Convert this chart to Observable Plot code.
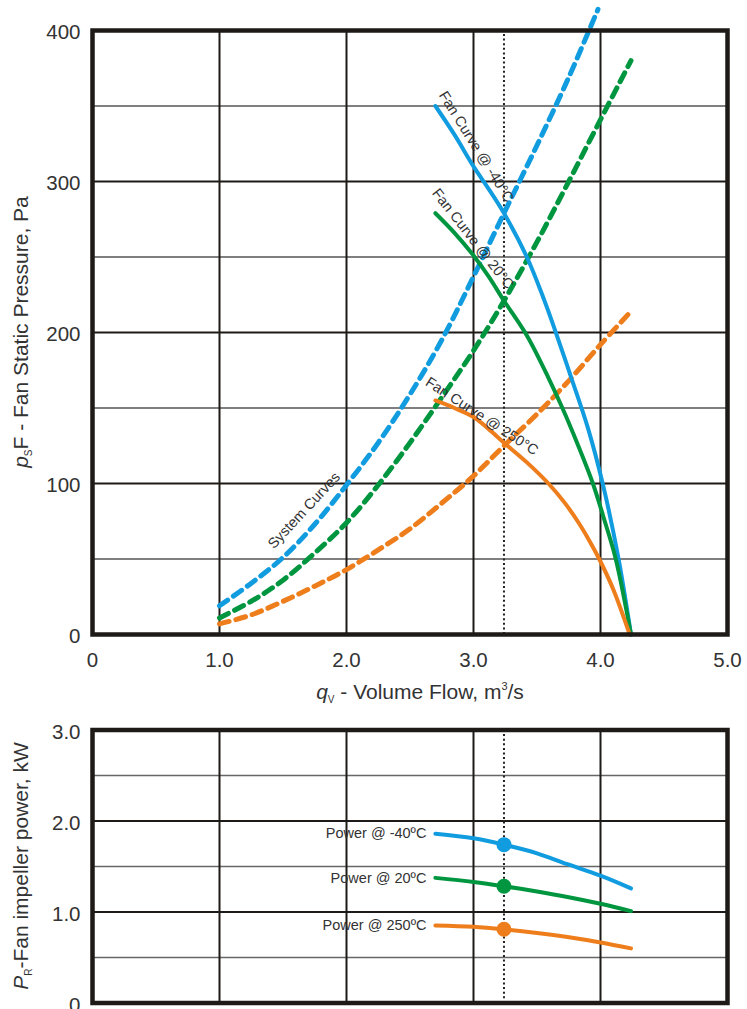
<!DOCTYPE html>
<html><head><meta charset="utf-8">
<script src="https://cdn.jsdelivr.net/npm/d3@7"></script>
<script src="https://cdn.jsdelivr.net/npm/@observablehq/plot@0.6"></script>
<style>
html,body{margin:0;padding:0;background:#fff;overflow:hidden;}
#chart{width:747px;height:1009px;position:relative;overflow:hidden;}
#chart svg{display:block;}
</style></head><body><div id="chart"></div>
<script>
// ---------- data ----------
const qTicks = [0, 1, 2, 3, 4, 5];
const qTickLabels = ["0", "1.0", "2.0", "3.0", "4.0", "5.0"];
const qGrid = [1, 2, 3, 4];
const pTicks = [0, 100, 200, 300, 400];
const pTickLabels = ["0", "100", "200", "300", "400"];
const pMajor = [100, 200, 300];
const pMinor = [50, 150, 250, 350];
const powTicks = [0, 1, 2, 3];
const powTickLabels = ["0", "1.0", "2.0", "3.0"];
const powMajor = [1, 2];
const powMinor = [0.5, 1.5, 2.5];
const opFlow = 3.24;

const sysFlowBlue = [1.0, 1.25, 1.5, 1.75, 2.0, 2.25, 2.5, 2.75, 3.0, 3.24, 3.5, 3.75, 3.98];
const sysPressBlue = [19, 34, 51, 73, 99, 127, 159, 195, 237, 279, 324, 369, 414];
const sysFlow = [1.0, 1.25, 1.5, 1.75, 2.0, 2.25, 2.5, 2.75, 3.0, 3.24, 3.5, 3.75, 4.0, 4.24];
const sysPressGreen = [11, 22, 36, 54, 74, 99, 127, 157, 188, 221, 260, 300, 341, 380];
const sysPressOrange = [7, 13, 22, 32, 43, 56, 70, 87, 105, 125, 146, 168, 192, 214];

const fanFlowBlue = [2.7, 2.85, 3.0, 3.12, 3.24, 3.42, 3.55, 3.64, 3.77, 3.9, 4.02, 4.14, 4.24];
const fanPressBlue = [350, 331, 310, 295, 279, 250, 223, 202, 170, 137, 99, 51, 0];
const fanFlowGreen = [2.7, 2.85, 3.0, 3.12, 3.24, 3.42, 3.59, 3.7, 3.82, 3.94, 4.03, 4.12, 4.24];
const fanPressGreen = [279, 266, 251, 237, 221, 198, 170, 150, 126, 100, 76, 50, 0];
const fanFlowOrange = [2.7, 2.85, 3.0, 3.12, 3.24, 3.42, 3.59, 3.72, 3.82, 3.92, 3.99, 4.1, 4.23];
const fanPressOrange = [155, 150, 144, 136, 127, 114, 100, 87, 75, 61, 50, 30, 0];

const powerFlow = [2.7, 3.0, 3.24, 3.5, 3.74, 4.0, 4.24];
const powerBlue = [1.86, 1.81, 1.74, 1.645, 1.525, 1.40, 1.26];
const powerGreen = [1.375, 1.33, 1.283, 1.225, 1.165, 1.09, 1.01];
const powerOrange = [0.853, 0.838, 0.81, 0.77, 0.725, 0.665, 0.60];

const fanLabels = ["Fan Curve @ -40°C", "Fan Curve @ 20°C", "Fan Curve @ 250°C"];
const systemLabel = "System Curves";
const powerLabels = ["Power @ -40ºC", "Power @ 20ºC", "Power @ 250ºC"];

const BLUE = "#119ce0", GREEN = "#00963f", ORANGE = "#ee7d1b";
const INK = "#1e1a17", TEXT = "#333";
const FONT = "'Liberation Sans', Arial, Helvetica, sans-serif";

const pts = (xs, ys) => xs.map((x, i) => ({x, y: ys[i]}));
const dashed = {x: "x", y: "y", strokeWidth: 5, strokeDasharray: "10,7", curve: "catmull-rom"};
const solid = {x: "x", y: "y", strokeWidth: 4, curve: "catmull-rom"};
const lbl = {fontSize: 14.5, fill: TEXT, textAnchor: "start", lineAnchor: "bottom"};

// ---------- top chart ----------
const topPlot = Plot.plot({
  width: 747, height: 712,
  marginLeft: 92, marginRight: 20, marginTop: 30, marginBottom: 78,
  x: {domain: [0, 5]},
  y: {domain: [0, 400]},
  style: {fontFamily: FONT, fontSize: "20.5px", color: TEXT, background: "white"},
  marks: [
    Plot.ruleY(pMinor, {stroke: "#555", strokeWidth: 1.3}),
    Plot.ruleY(pMajor, {stroke: INK, strokeWidth: 2}),
    Plot.ruleX(qGrid, {stroke: INK, strokeWidth: 2}),
    Plot.ruleX([opFlow], {y1: 0, y2: 398, stroke: "#222", strokeWidth: 2, strokeDasharray: "2,2.6"}),
    Plot.line(pts(sysFlowBlue, sysPressBlue), {...dashed, stroke: BLUE}),
    Plot.line(pts(sysFlow, sysPressGreen), {...dashed, stroke: GREEN}),
    Plot.line(pts(sysFlow, sysPressOrange), {...dashed, stroke: ORANGE}),
    Plot.line(pts(fanFlowBlue, fanPressBlue), {...solid, stroke: BLUE}),
    Plot.line(pts(fanFlowGreen, fanPressGreen), {...solid, stroke: GREEN}),
    Plot.line(pts(fanFlowOrange, fanPressOrange), {...solid, stroke: ORANGE}),
    Plot.frame({stroke: INK, strokeWidth: 4.5}),
    Plot.axisX(qTicks, {tickSize: 0, tickPadding: 18, label: null, fontSize: 20.5, fill: TEXT,
      tickFormat: d => qTickLabels[qTicks.indexOf(d)]}),
    Plot.axisY(pTicks, {tickSize: 0, tickPadding: 12, label: null, fontSize: 20.5, fill: TEXT, dy: 2,
      tickFormat: d => pTickLabels[pTicks.indexOf(d)]}),
    Plot.text([fanLabels[0]], {...lbl, x: fanFlowBlue[0], y: fanPressBlue[0], text: d => d, rotate: 58, dx: 3, dy: -11}),
    Plot.text([fanLabels[1]], {...lbl, x: fanFlowGreen[0], y: fanPressGreen[0], text: d => d, rotate: 52, dx: -4, dy: -20}),
    Plot.text([fanLabels[2]], {...lbl, x: fanFlowOrange[0], y: fanPressOrange[0], text: d => d, rotate: 33, dx: -11, dy: -16}),
    Plot.text([systemLabel], {...lbl, x: sysFlowBlue[2], y: sysPressBlue[2], text: d => d, rotate: -47, dx: -9, dy: -8})
  ]
});

// ---------- bottom chart ----------
const powerDots = [
  {x: powerFlow[2], y: powerBlue[2], c: BLUE},
  {x: powerFlow[2], y: powerGreen[2], c: GREEN},
  {x: powerFlow[2], y: powerOrange[2], c: ORANGE}
];
const powerLabelData = [
  {x: powerFlow[0], y: powerBlue[0], t: powerLabels[0]},
  {x: powerFlow[0], y: powerGreen[0], t: powerLabels[1]},
  {x: powerFlow[0], y: powerOrange[0], t: powerLabels[2]}
];
const botPlot = Plot.plot({
  width: 747, height: 297,
  marginLeft: 92, marginRight: 20, marginTop: 17.5, marginBottom: 6.5,
  x: {domain: [0, 5], axis: null},
  y: {domain: [0, 3]},
  style: {fontFamily: FONT, fontSize: "20.5px", color: TEXT, background: "white"},
  marks: [
    Plot.ruleY(powMinor, {stroke: "#666", strokeWidth: 1.3}),
    Plot.ruleY(powMajor, {stroke: INK, strokeWidth: 2}),
    Plot.ruleX(qGrid, {stroke: INK, strokeWidth: 2}),
    Plot.ruleX([opFlow], {stroke: "#222", strokeWidth: 2, strokeDasharray: "2,2.6"}),
    Plot.line(pts(powerFlow, powerBlue), {...solid, stroke: BLUE}),
    Plot.line(pts(powerFlow, powerGreen), {...solid, stroke: GREEN}),
    Plot.line(pts(powerFlow, powerOrange), {...solid, stroke: ORANGE}),
    Plot.dot(powerDots, {x: "x", y: "y", r: 7.5, fill: "c", stroke: "none"}),
    Plot.frame({stroke: INK, strokeWidth: 4.5}),
    Plot.axisY(powTicks, {tickSize: 0, tickPadding: 12, label: null, fontSize: 20.5, fill: TEXT, dy: 2,
      tickFormat: d => powTickLabels[powTicks.indexOf(d)]}),
    Plot.text(powerLabelData, {x: "x", y: "y", text: "t", textAnchor: "end", dx: -9, dy: 0, fontSize: 14.5, fill: TEXT})
  ]
});

const root = document.getElementById("chart");
root.appendChild(topPlot);
root.appendChild(botPlot);

// ---------- axis titles with sub/superscripts ----------
function title(svg, x, y, rot, parts) {
  const t = d3.select(svg).append("text")
    .attr("transform", `translate(${x},${y}) rotate(${rot})`)
    .attr("text-anchor", "middle")
    .attr("font-family", FONT).attr("font-size", 21).attr("fill", TEXT);
  for (const p of parts) {
    const s = t.append("tspan").text(p.t);
    if (p.i) s.attr("font-style", "italic");
    if (p.sub) s.attr("font-size", 10).attr("dy", 4);
    if (p.sup) s.attr("font-size", 11).attr("dy", -9);
    if (p.back) s.attr("dy", p.back);
  }
}
title(topPlot, 28, 332, -90, [
  {t: "p", i: true}, {t: "S", sub: true}, {t: "F - Fan Static Pressure, Pa", back: -4}
]);
title(topPlot, 420, 699, 0, [
  {t: "q", i: true}, {t: "V", sub: true}, {t: " - Volume Flow, m", back: -4}, {t: "3", sup: true}, {t: "/s", back: 9}
]);
title(botPlot, 28, 154, -90, [
  {t: "P", i: true}, {t: "R", sub: true}, {t: "-Fan impeller power, kW", back: -4}
]);
</script></body></html>
